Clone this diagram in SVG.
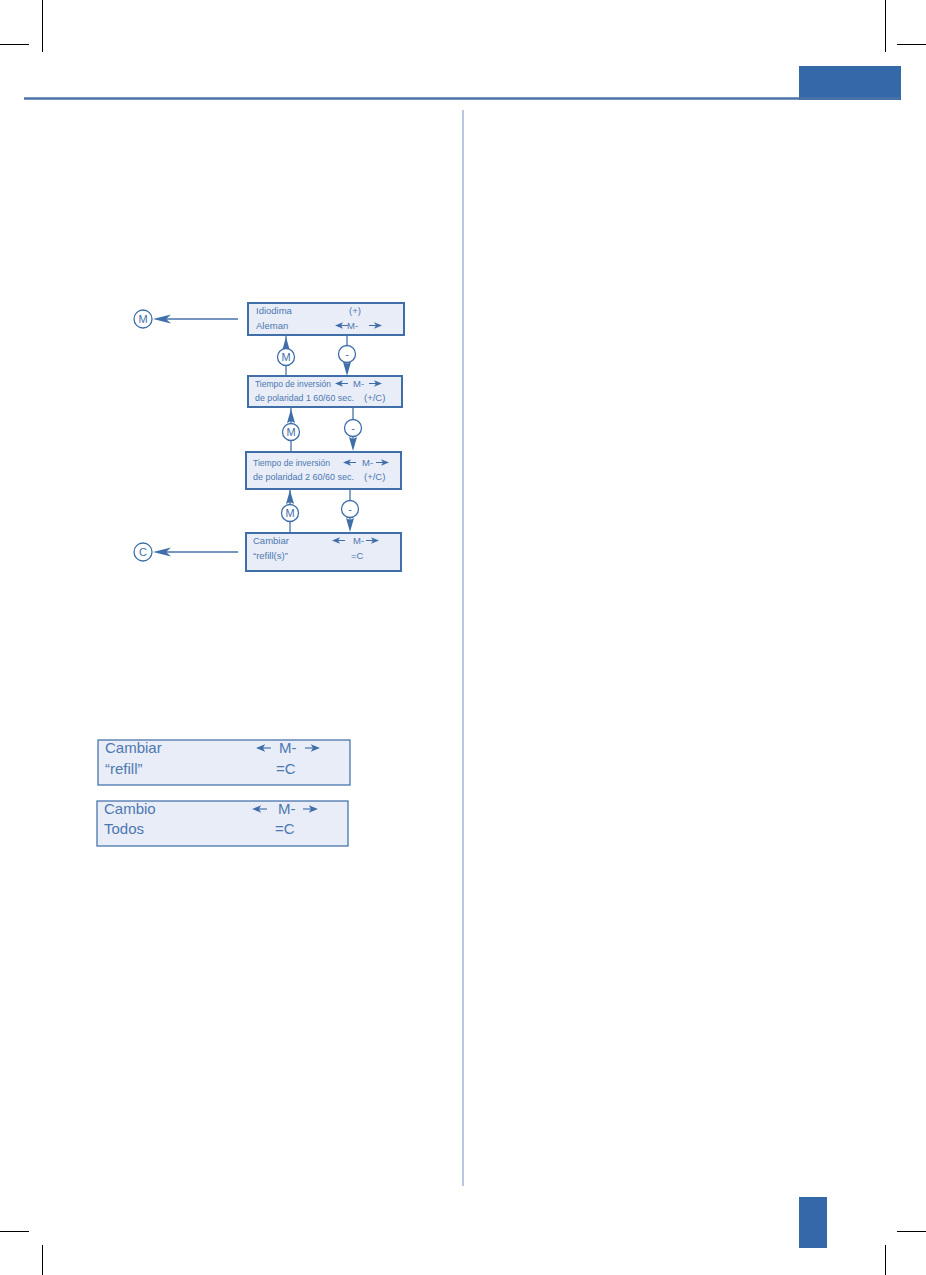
<svg xmlns="http://www.w3.org/2000/svg" xmlns:xlink="http://www.w3.org/1999/xlink" width="926" height="1275" viewBox="0 0 926 1275">
<style>
.crop{stroke:#000;stroke-width:1;fill:none}
.box{fill:#e9edf7;stroke:#3f6ea9;stroke-width:2}
.t{font-family:"Liberation Sans",Arial,sans-serif;font-size:9.5px;fill:#4c78b2}
.tb{font-family:"Liberation Sans",Arial,sans-serif;font-size:15px;fill:#4c78b2}
.ln{stroke:#4872ab;stroke-width:1.3;fill:none}
.ah{fill:#3f6ea9}
.cir{fill:#fff;stroke:#3f6ea9;stroke-width:1.3}
.ct{font-family:"Liberation Sans",Arial,sans-serif;font-size:11px;fill:#3f6ea9;text-anchor:middle}
</style>
<defs>
<g id="la"><polygon class="ah" points="0,0 8,-3.2 6,0 8,3.2"/><line x1="6" y1="0" x2="13" y2="0" stroke="#3f6ea9" stroke-width="1"/></g>
<g id="ra"><line x1="0" y1="0" x2="7" y2="0" stroke="#3f6ea9" stroke-width="1"/><polygon class="ah" points="13,0 5,-3.2 7,0 5,3.2"/></g>
</defs>
<rect width="926" height="1275" fill="#fff"/>
<g id="page">
<line class="crop" x1="42.5" y1="0" x2="42.5" y2="52"/>
<line class="crop" x1="0" y1="44.5" x2="29" y2="44.5"/>
<line class="crop" x1="885.5" y1="0" x2="885.5" y2="52"/>
<line class="crop" x1="897" y1="44.5" x2="926" y2="44.5"/>
<line class="crop" x1="0" y1="1231.5" x2="29" y2="1231.5"/>
<line class="crop" x1="42.5" y1="1245" x2="42.5" y2="1275"/>
<line class="crop" x1="897" y1="1231.5" x2="926" y2="1231.5"/>
<line class="crop" x1="885.5" y1="1245" x2="885.5" y2="1275"/>
<rect x="799" y="66" width="102" height="34" fill="#3568a9"/>
<line x1="24" y1="98.5" x2="900" y2="98.5" stroke="#4a74a6" stroke-width="2.5"/>
<line x1="463" y1="110" x2="463" y2="1186" stroke="#6f93c0" stroke-width="1"/>
<rect x="799" y="1197" width="28" height="51" fill="#3568a9"/>
</g>
<g id="connectors">
<line class="ln" x1="238" y1="319" x2="166" y2="319"/>
<polygon class="ah" points="153,319 171,314.5 166,319 171,323.5"/>
<line class="ln" x1="238" y1="552" x2="166" y2="552"/>
<polygon class="ah" points="153,552 171,547.5 166,552 171,556.5"/>
<line class="ln" x1="286" y1="336" x2="286" y2="376"/>
<polygon class="ah" points="286,337 290,351 286,349 282,351"/>
<line class="ln" x1="347" y1="336" x2="347" y2="370"/>
<polygon class="ah" points="347,376 351,362 347,364 343,362"/>
<line class="ln" x1="291" y1="408" x2="291" y2="451"/>
<polygon class="ah" points="291,409 295,423 291,421 287,423"/>
<line class="ln" x1="353" y1="408" x2="353" y2="445"/>
<polygon class="ah" points="353,451 357,437 353,439 349,437"/>
<line class="ln" x1="290" y1="489" x2="290" y2="533"/>
<polygon class="ah" points="290,490 294,504 290,502 286,504"/>
<line class="ln" x1="350" y1="489" x2="350" y2="526"/>
<polygon class="ah" points="350,532 354,518 350,520 346,518"/>
</g>
<g id="circleM1"><circle class="cir" cx="143" cy="319" r="9"/><text class="ct" x="143" y="323">M</text></g>
<g id="circleC"><circle class="cir" cx="143" cy="552" r="9"/><text class="ct" x="143" y="556">C</text></g>
<g id="m1"><circle class="cir" cx="286" cy="357" r="8.5"/><text class="ct" x="286" y="361">M</text></g>
<g id="d1"><circle class="cir" cx="347" cy="354" r="8.5"/><text class="ct" x="347" y="357.5">-</text></g>
<g id="m2"><circle class="cir" cx="291" cy="432" r="8.5"/><text class="ct" x="291" y="436">M</text></g>
<g id="d2"><circle class="cir" cx="353" cy="428" r="8.5"/><text class="ct" x="353" y="431.5">-</text></g>
<g id="m3"><circle class="cir" cx="290" cy="513" r="8.5"/><text class="ct" x="290" y="517">M</text></g>
<g id="d3"><circle class="cir" cx="350" cy="509" r="8.5"/><text class="ct" x="350" y="512.5">-</text></g>
<g id="box1">
<rect class="box" x="248" y="303" width="156" height="32"/>
<text class="t" x="256" y="314">Idiodima</text>
<text class="t" x="349" y="314">(+)</text>
<text class="t" x="256" y="329">Aleman</text>
<use xlink:href="#la" x="335" y="325.5"/>
<text class="t" x="347" y="329">M-</text>
<use xlink:href="#ra" x="369" y="325.5"/>
</g>
<g id="box2">
<rect class="box" x="248" y="376" width="154" height="31"/>
<text class="t" x="255" y="387" textLength="76" lengthAdjust="spacingAndGlyphs">Tiempo de inversión</text>
<use xlink:href="#la" x="335" y="383.5"/>
<text class="t" x="353" y="387">M-</text>
<use xlink:href="#ra" x="369" y="383.5"/>
<text class="t" x="255" y="401" textLength="99" lengthAdjust="spacingAndGlyphs">de polaridad 1 60/60 sec.</text>
<text class="t" x="364" y="401">(+/C)</text>
</g>
<g id="box3">
<rect class="box" x="246" y="452" width="155" height="37"/>
<text class="t" x="253" y="466" textLength="77" lengthAdjust="spacingAndGlyphs">Tiempo de inversión</text>
<use xlink:href="#la" x="343" y="462.5"/>
<text class="t" x="362" y="466">M-</text>
<use xlink:href="#ra" x="376" y="462.5"/>
<text class="t" x="253" y="480" textLength="101" lengthAdjust="spacingAndGlyphs">de polaridad 2 60/60 sec.</text>
<text class="t" x="364" y="480">(+/C)</text>
</g>
<g id="box4">
<rect class="box" x="246" y="533" width="155" height="38"/>
<text class="t" x="253" y="544">Cambiar</text>
<use xlink:href="#la" x="332" y="540.5"/>
<text class="t" x="353" y="544">M-</text>
<use xlink:href="#ra" x="366" y="540.5"/>
<text class="t" x="253" y="559">“refill(s)”</text>
<text class="t" x="351" y="559">=C</text>
</g>
<g id="box5">
<rect x="98" y="740" width="252" height="45" fill="#e9edf7" stroke="#4a76ad" stroke-width="1.3"/>
<text class="tb" x="105" y="753">Cambiar</text>
<use xlink:href="#la" transform="translate(256,748) scale(1.15)"/>
<text class="tb" x="279" y="753">M-</text>
<use xlink:href="#ra" transform="translate(305,748) scale(1.15)"/>
<text class="tb" x="105" y="774">“refill”</text>
<text class="tb" x="276" y="774">=C</text>
</g>
<g id="box6">
<rect x="97" y="801" width="251" height="45" fill="#e9edf7" stroke="#4a76ad" stroke-width="1.3"/>
<text class="tb" x="104" y="814">Cambio</text>
<use xlink:href="#la" transform="translate(252,809) scale(1.15)"/>
<text class="tb" x="278" y="814">M-</text>
<use xlink:href="#ra" transform="translate(303,809) scale(1.15)"/>
<text class="tb" x="104" y="834">Todos</text>
<text class="tb" x="275" y="834">=C</text>
</g>
</svg>
